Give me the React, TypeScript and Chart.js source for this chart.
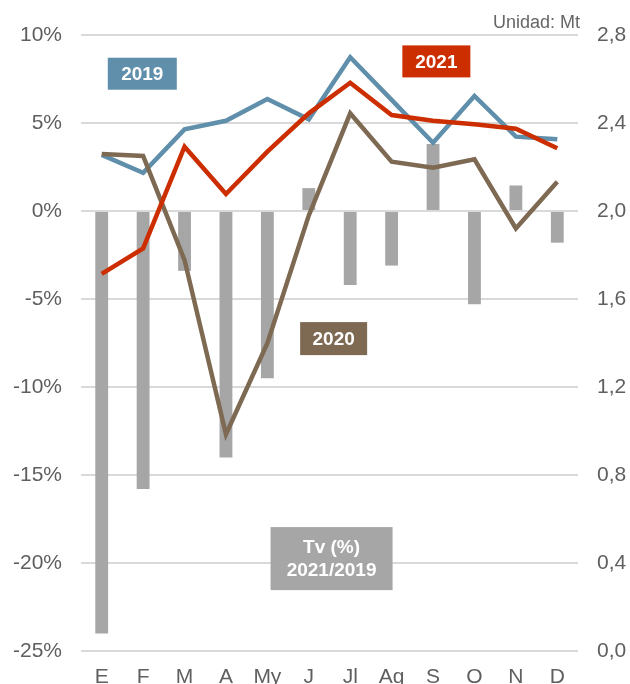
import React, { useEffect, useRef } from "react";
import { Chart, registerables } from "chart.js";

Chart.register(...registerables);

const months = ["E", "F", "M", "A", "My", "J", "Jl", "Ag", "S", "O", "N", "D"];
const tvPct = [-24.0, -15.8, -3.4, -14.0, -9.5, 1.3, -4.2, -3.1, 3.8, -5.3, 1.45, -1.8];
const y2019 = [2.255, 2.174, 2.371, 2.41, 2.509, 2.417, 2.699, 2.505, 2.31, 2.523, 2.338, 2.326];
const y2020 = [2.259, 2.25, 1.777, 0.985, 1.399, 1.98, 2.444, 2.224, 2.197, 2.235, 1.921, 2.133];
const y2021 = [1.714, 1.83, 2.292, 2.077, 2.27, 2.444, 2.583, 2.436, 2.41, 2.394, 2.374, 2.285];
const leftTicks = [-25, -20, -15, -10, -5, 0, 5, 10];
const rightTicks = [0, 0.4, 0.8, 1.2, 1.6, 2.0, 2.4, 2.8];

// label boxes: anchored at category index and left-axis value
const labelBoxes = [
  { lines: ["2019"], idx: 0.98, val: 7.8, w: 69, h: 32, color: "#5f8fab" },
  { lines: ["2021"], idx: 8.08, val: 8.5, w: 68, h: 32, color: "#cc2e00" },
  { lines: ["2020"], idx: 5.6, val: -7.25, w: 67, h: 33, color: "#7e6953" },
  { lines: ["Tv (%)", "2021/2019"], idx: 5.55, val: -19.75, w: 122, h: 63, color: "#a6a6a6" },
];

const FONT = "'Liberation Sans', Arial, sans-serif";
const TICK_COLOR = "#5f5f5f";

export default function App() {
  const ref = useRef<HTMLCanvasElement | null>(null);
  useEffect(() => {
    if (!ref.current) return;
    const boxesPlugin = {
      id: "boxes",
      afterDatasetsDraw(chart: any) {
        const ctx = chart.ctx;
        const xs = chart.scales.x;
        const ys = chart.scales.y;
        ctx.save();
        for (const b of labelBoxes) {
          const i0 = Math.floor(b.idx);
          const f = b.idx - i0;
          const cx = xs.getPixelForValue(i0) + f * (xs.getPixelForValue(i0 + 1) - xs.getPixelForValue(i0));
          const cy = ys.getPixelForValue(b.val);
          ctx.fillStyle = b.color;
          ctx.fillRect(cx - b.w / 2, cy - b.h / 2, b.w, b.h);
          ctx.fillStyle = "#ffffff";
          ctx.font = `bold 19px ${FONT}`;
          ctx.textAlign = "center";
          ctx.textBaseline = "middle";
          const lh = 23;
          b.lines.forEach((t, k) => {
            ctx.fillText(t, cx, cy + (k - (b.lines.length - 1) / 2) * lh + 1);
          });
        }
        ctx.fillStyle = "#666666";
        ctx.font = `18px ${FONT}`;
        ctx.textAlign = "right";
        ctx.textBaseline = "alphabetic";
        ctx.fillText("Unidad: Mt", chart.chartArea.right + 2, chart.chartArea.top - 7);
        ctx.restore();
      },
    };
    const chart = new Chart(ref.current, {
      type: "bar",
      data: {
        labels: months,
        datasets: [
          {
            type: "line",
            label: "2021",
            data: y2021,
            yAxisID: "y2",
            borderColor: "#cc2e00",
            borderWidth: 4.5,
            pointRadius: 0,
            tension: 0,
            order: 1,
          } as any,
          {
            type: "line",
            label: "2020",
            data: y2020,
            yAxisID: "y2",
            borderColor: "#7e6953",
            borderWidth: 4.5,
            pointRadius: 0,
            tension: 0,
            order: 2,
          },
          {
            type: "line",
            label: "2019",
            data: y2019,
            yAxisID: "y2",
            borderColor: "#5f8fab",
            borderWidth: 4.5,
            pointRadius: 0,
            tension: 0,
            order: 3,
          },
          {
            type: "bar",
            label: "Tv (%) 2021/2019",
            data: tvPct,
            yAxisID: "y",
            backgroundColor: "#a6a6a6",
            barPercentage: 0.31,
            categoryPercentage: 1,
            order: 10,
          },
        ],
      },
      options: {
        animation: false,
        responsive: false,
        maintainAspectRatio: false,
        layout: { padding: { top: 35, bottom: 0, left: 0, right: 0 } },
        plugins: { legend: { display: false }, tooltip: { enabled: false } },
        scales: {
          x: {
            grid: { display: false },
            border: { display: false },
            ticks: { color: TICK_COLOR, font: { family: FONT, size: 21 }, padding: 6, maxRotation: 0, autoSkip: false },
            afterFit(scale: any) {
              scale.height = 33;
            },
          },
          y: {
            position: "left",
            min: -25,
            max: 10,
            afterBuildTicks(scale: any) {
              scale.ticks = leftTicks.map((v) => ({ value: v }));
            },
            ticks: {
              color: TICK_COLOR,
              font: { family: FONT, size: 21 },
              padding: 19,
              callback: (v: any) => `${v}%`,
            },
            grid: { color: "#d9d9d9", lineWidth: 2, drawTicks: false },
            border: { display: false },
            afterFit(scale: any) {
              scale.width = 81;
            },
          },
          y2: {
            position: "right",
            min: 0,
            max: 2.8,
            afterBuildTicks(scale: any) {
              scale.ticks = rightTicks.map((v) => ({ value: v }));
            },
            ticks: {
              color: TICK_COLOR,
              font: { family: FONT, size: 21 },
              padding: 19,
              callback: (v: any) => Number(v).toFixed(1).replace(".", ","),
            },
            grid: { display: false, drawTicks: false },
            border: { display: false },
            afterFit(scale: any) {
              scale.width = 52;
            },
          },
        },
      },
      plugins: [boxesPlugin],
    });
    return () => chart.destroy();
  }, []);
  return (
    <div style={{ position: "fixed", left: 0, top: 0, width: 630, height: 684, background: "#ffffff" }}>
      <canvas ref={ref} width={630} height={684} style={{ width: 630, height: 684 }} />
    </div>
  );
}
